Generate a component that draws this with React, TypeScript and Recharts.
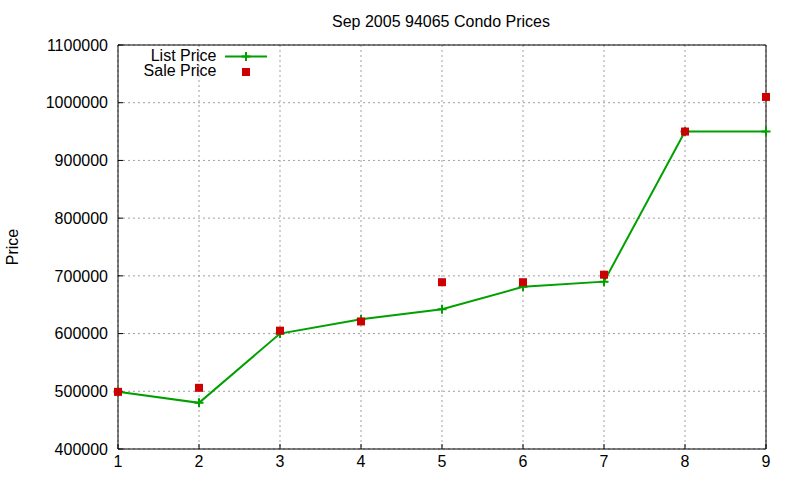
import { LineChart, Line, XAxis, YAxis, CartesianGrid } from "recharts"

// month index on the x axis
const months = [1, 2, 3, 4, 5, 6, 7, 8, 9]
const listPrice = [499000, 480000, 600000, 625000, 642000, 681000, 690000, 950000, 950000]
const salePrice = [499000, 506000, 605000, 621000, 689000, 689000, 702000, 950000, 1010000]
const priceTicks = [400000, 500000, 600000, 700000, 800000, 900000, 1000000, 1100000]

const data = months.map((m, i) => ({ x: m, list: listPrice[i], sale: salePrice[i] }))

const GREEN = "#00a000"
const RED = "#cc0000"
const FONT = "'Liberation Sans', Arial, sans-serif"

function PlusDot(props: any) {
  const { cx, cy, index } = props
  if (cx == null || cy == null) return null
  return (
    <path
      key={`p-${index}`}
      d={`M${cx - 4.5},${cy}H${cx + 4.5}M${cx},${cy - 4.5}V${cy + 4.5}`}
      stroke={GREEN}
      strokeWidth={2}
      fill="none"
    />
  )
}

function SquareDot(props: any) {
  const { cx, cy, index } = props
  if (cx == null || cy == null) return null
  return <rect key={`s-${index}`} x={cx - 4} y={cy - 4} width={8} height={8} fill={RED} />
}

export default function App() {
  return (
    <div style={{ position: "absolute", left: 0, top: 0, width: 800, height: 480, background: "#fff", fontFamily: FONT }}>
      <LineChart width={800} height={480} data={data} margin={{ top: 45, right: 34, bottom: 0, left: 0 }}>
        <CartesianGrid stroke="#a0a0a0" strokeDasharray="2 3" />
        <XAxis
          dataKey="x"
          type="number"
          domain={[1, 9]}
          ticks={months}
          interval={0}
          height={31}
          tickSize={-5}
          tickMargin={12}
          axisLine={{ stroke: "#000" }}
          tickLine={{ stroke: "#000" }}
          tick={{ fill: "#000", fontSize: 16, fontFamily: FONT }}
        />
        <XAxis
          xAxisId="top"
          orientation="top"
          type="number"
          domain={[1, 9]}
          ticks={months}
          interval={0}
          mirror
          height={1}
          tick={false}
          tickSize={5}
          axisLine={{ stroke: "#000" }}
          tickLine={{ stroke: "#000" }}
        />
        <YAxis
          type="number"
          domain={[400000, 1100000]}
          ticks={priceTicks}
          interval={0}
          width={118}
          tickSize={-5}
          tickMargin={15}
          axisLine={{ stroke: "#000" }}
          tickLine={{ stroke: "#000" }}
          tick={{ fill: "#000", fontSize: 16, fontFamily: FONT }}
        />
        <YAxis
          yAxisId="right"
          orientation="right"
          type="number"
          domain={[400000, 1100000]}
          ticks={priceTicks}
          interval={0}
          mirror
          width={1}
          tick={false}
          tickSize={5}
          axisLine={{ stroke: "#000" }}
          tickLine={{ stroke: "#000" }}
        />
        <Line
          dataKey="list"
          type="linear"
          stroke={GREEN}
          strokeWidth={2}
          dot={PlusDot}
          activeDot={false}
          isAnimationActive={false}
        />
        <Line
          dataKey="sale"
          type="linear"
          stroke="none"
          strokeWidth={0}
          dot={SquareDot}
          activeDot={false}
          isAnimationActive={false}
        />
      </LineChart>
      <svg
        width={800}
        height={480}
        style={{ position: "absolute", left: 0, top: 0, pointerEvents: "none" }}
        fontFamily={FONT}
        fontSize={16}
      >
        <text x={441} y={26.5} textAnchor="middle" fill="#000">
          Sep 2005 94065 Condo Prices
        </text>
        <text transform="translate(17.5,247) rotate(-90)" textAnchor="middle" fill="#000">
          Price
        </text>
        <text x={216.5} y={60.5} textAnchor="end" fill="#000">
          List Price
        </text>
        <line x1={225} y1={56.5} x2={267} y2={56.5} stroke={GREEN} strokeWidth={2} />
        <path d="M241.5,56.5H250.5M246,52V61" stroke={GREEN} strokeWidth={2} />
        <text x={216.5} y={76} textAnchor="end" fill="#000">
          Sale Price
        </text>
        <rect x={242} y={68} width={8} height={8} fill={RED} />
      </svg>
    </div>
  )
}
